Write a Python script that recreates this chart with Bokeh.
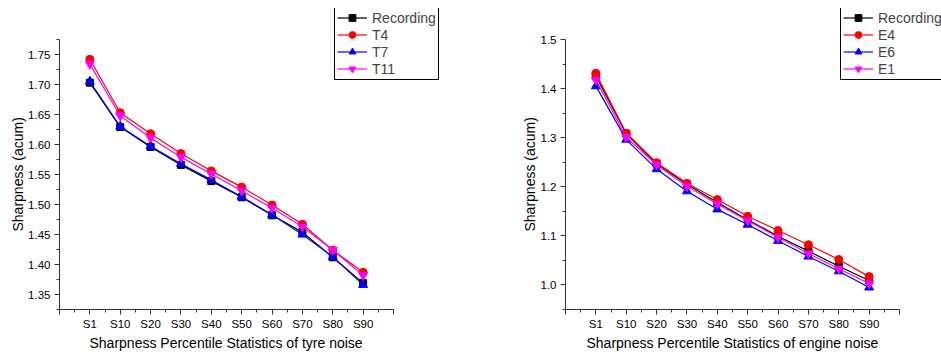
from bokeh.plotting import figure
from bokeh.layouts import row
from bokeh.models import Range1d, FixedTicker, PrintfTickFormatter, Legend, LegendItem, Title
from bokeh.embed import file_html
from bokeh.resources import INLINE

categories = ["S1", "S10", "S20", "S30", "S40", "S50", "S60", "S70", "S80", "S90"]

tyre_names = ["Recording", "T4", "T7", "T11"]
tyre_recording = [1.703, 1.629, 1.596, 1.566, 1.539, 1.512, 1.482, 1.454, 1.412, 1.369]
tyre_t4 = [1.742, 1.653, 1.618, 1.585, 1.556, 1.529, 1.499, 1.467, 1.424, 1.387]
tyre_t7 = [1.705, 1.630, 1.597, 1.568, 1.541, 1.513, 1.483, 1.450, 1.413, 1.366]
tyre_t11 = [1.734, 1.648, 1.611, 1.579, 1.551, 1.523, 1.494, 1.463, 1.424, 1.382]

engine_names = ["Recording", "E4", "E6", "E1"]
engine_recording = [1.425, 1.308, 1.247, 1.205, 1.168, 1.133, 1.099, 1.069, 1.038, 1.009]
engine_e4 = [1.431, 1.309, 1.249, 1.207, 1.174, 1.140, 1.111, 1.082, 1.052, 1.017]
engine_e6 = [1.405, 1.296, 1.236, 1.191, 1.154, 1.123, 1.090, 1.058, 1.028, 0.995]
engine_e1 = [1.418, 1.301, 1.245, 1.201, 1.165, 1.131, 1.097, 1.064, 1.033, 1.003]

tyre_yticks = [1.35, 1.40, 1.45, 1.50, 1.55, 1.60, 1.65, 1.70, 1.75]
engine_yticks = [1.0, 1.1, 1.2, 1.3, 1.4, 1.5]

FONT = "Liberation Sans"
colors = ["black", "#FF0000", "#0000FF", "#FF00FF"]
markers = ["square", "circle", "triangle", "inverted_triangle"]
msizes = [7, 8, 9, 9]

AXIS_W = 334      # pixel length of the drawn x axis
AXIS_H = 270      # pixel length of the drawn y axis
FIG_H = 356
BORDER_TOP = 8
BORDER_BOTTOM = 47


def make_chart(width, border_left, border_right, ylim, yticks, ystep, fmt,
               names, series, xlabel, xlabel_offset):
    n = len(categories) + 1
    x = list(range(1, n))
    frame_w = width - border_left - border_right
    frame_h = FIG_H - BORDER_TOP - BORDER_BOTTOM
    # extend the data frame beyond the drawn axes so the legend can overhang them
    x_end = n * frame_w / AXIS_W
    y_end = ylim[0] + (ylim[1] - ylim[0]) * frame_h / AXIS_H

    p = figure(width=width, height=FIG_H, output_backend="svg", toolbar_location=None,
               x_range=Range1d(0, x_end), y_range=Range1d(ylim[0], y_end),
               min_border_left=border_left, min_border_right=border_right,
               min_border_top=BORDER_TOP, min_border_bottom=BORDER_BOTTOM)
    p.outline_line_color = None
    p.xgrid.visible = False
    p.ygrid.visible = False

    p.xaxis.ticker = FixedTicker(ticks=list(range(0, n + 1)),
                                 minor_ticks=[i + 0.5 for i in range(n)])
    overrides = {0: "", n: ""}
    for i, c in enumerate(categories):
        overrides[i + 1] = c
    p.xaxis.major_label_overrides = overrides
    p.xaxis.bounds = (0, n)

    minors = [round(t - ystep / 2, 4) for t in yticks] + [round(yticks[-1] + ystep / 2, 4)]
    minors = [m for m in minors if ylim[0] <= m <= ylim[1]]
    p.yaxis.ticker = FixedTicker(ticks=yticks, minor_ticks=minors)
    p.yaxis.formatter = PrintfTickFormatter(format=fmt)
    p.yaxis.bounds = ylim

    for ax in (p.xaxis[0], p.yaxis[0]):
        ax.axis_line_color = "#333333"
        ax.major_tick_line_color = "#333333"
        ax.minor_tick_line_color = "#333333"
        ax.major_tick_in = 0
        ax.major_tick_out = 5
        ax.minor_tick_in = 0
        ax.minor_tick_out = 3
        ax.major_label_text_font = FONT
        ax.major_label_text_font_size = "11.5px"
        ax.major_label_text_color = "black"
    p.xaxis.major_label_standoff = 3
    p.yaxis.major_label_standoff = 4

    # axis titles placed along the drawn axes (not the extended frame)
    xt = Title(text=xlabel, align="left", offset=xlabel_offset,
               text_font=FONT, text_font_size="14px", text_font_style="normal",
               text_color="black", standoff=0)
    p.add_layout(xt, "below")
    yt = Title(text="Sharpness (acum)", align="left", offset=78,
               text_font=FONT, text_font_size="14px", text_font_style="normal",
               text_color="black", standoff=0)
    p.add_layout(yt, "left")

    items = []
    for name, ys, col, mk, ms in zip(names, series, colors, markers, msizes):
        lr = p.line(x, ys, line_color=col, line_width=1.2)
        sr = p.scatter(x, ys, marker=mk, size=ms, fill_color=col, line_color=col)
        items.append(LegendItem(label=name, renderers=[lr, sr]))

    legend = Legend(items=items, location=(275, 229))
    legend.border_line_color = "black"
    legend.border_line_width = 1
    legend.border_line_alpha = 1
    legend.background_fill_color = "white"
    legend.background_fill_alpha = 1
    legend.label_text_font = FONT
    legend.label_text_font_size = "14px"
    legend.glyph_width = 30
    legend.glyph_height = 17
    legend.label_height = 17
    legend.label_standoff = 5
    legend.spacing = 0
    legend.padding = 2
    legend.margin = 0
    p.add_layout(legend)
    return p


p1 = make_chart(470, 59, 29, (1.325, 1.775), tyre_yticks, 0.05, "%.2f", tyre_names,
                [tyre_recording, tyre_t4, tyre_t7, tyre_t11],
                "Sharpness Percentile Statistics of tyre noise", 30)
p2 = make_chart(471, 95, 0, (0.95, 1.5), engine_yticks, 0.1, "%.1f", engine_names,
                [engine_recording, engine_e4, engine_e6, engine_e1],
                "Sharpness Percentile Statistics of engine noise", 21)

layout = row(p1, p2)
open("out.html", "w").write(file_html(layout, INLINE))
